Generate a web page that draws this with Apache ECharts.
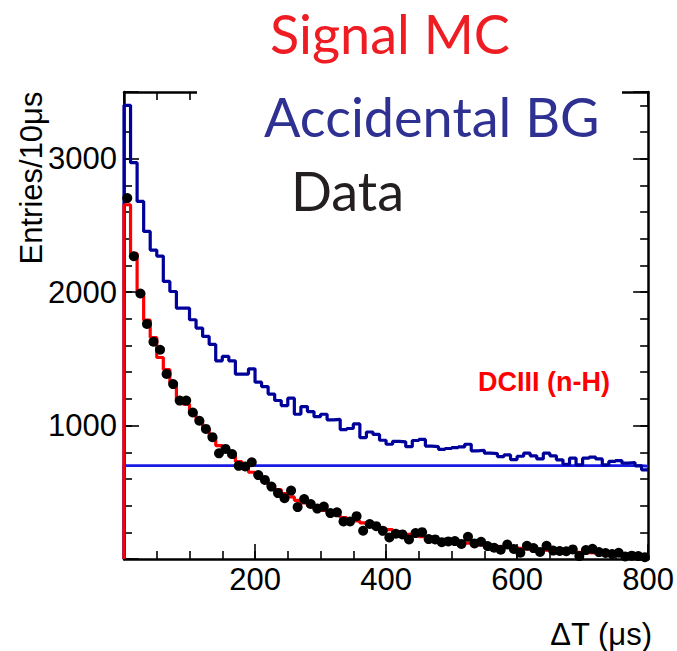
<!DOCTYPE html>
<html><head><meta charset="utf-8">
<script src="https://cdn.jsdelivr.net/npm/echarts@6/dist/echarts.min.js"></script>
<style>html,body{margin:0;padding:0;background:#fff}#c{width:677px;height:651px}</style>
</head><body><div id="c"></div>
<script>
// Bin width 10 us, 80 bins from 0 to 800 us
const binEdgesStart = 0;
const binWidth = 10;
const accidentalHist = [
 3400,2970,2680,2455,2315,2270,2080,2005,1880,1880,
 1793,1731,1668,1608,1485,1518,1485,1386,1386,1425,
 1325,1292,1236,1188,1150,1205,1085,1142,1105,1067,
 1085,1043,1046,970,978,1012,910,952,934,890,
 860,882,878,842,888,896,846,842,822,828,
 834,840,860,811,815,793,790,768,780,745,
 770,793,773,750,793,773,743,710,756,705,
 756,763,750,705,731,738,718,723,698,668];
const flatHist = [
 700,700,700,700,700,700,700,700,700,700,
 700,700,700,700,700,700,700,700,700,700,
 700,700,700,700,700,700,700,700,700,700,
 700,700,700,700,700,700,700,700,700,700,
 700,700,700,700,700,700,700,700,700,700,
 700,700,700,700,700,700,700,700,700,700,
 700,700,700,700,700,700,700,700,700,700,
 700,700,700,700,700,700,700,700,700,695];
const signalMC = [
 2655,2290,2000,1790,1660,1510,1420,1320,1200,1160,
 1100,1040,975,915,850,820,770,730,690,650,
 625,590,550,520,490,465,440,420,400,380,
 365,345,330,310,300,285,270,255,245,230,
 220,205,195,185,178,168,160,152,145,138,
 130,125,118,112,106,100,95,90,86,82,
 78,74,70,67,64,61,58,55,52,50,
 48,45,43,41,39,37,36,34,33,31];
const dataPts = [
 2705,2269,1990,1762,1628,1568,1387,1311,1187,1187,
 1098,1036,975,913,792,825,786,698,693,725,
 629,593,543,494,456,513,389,450,412,378,
 393,344,350,281,281,321,212,262,246,211,
 161,189,184,147,194,201,149,147,126,132,
 134,113,166,117,129,97,84,69,109,75,
 47,99,82,53,99,63,60,58,72,22,
 67,76,52,45,37,47,19,25,22,14];
const xTickLabels = ['200','400','600','800'];
const yTickLabels = ['1000','2000','3000'];

function stepData(arr){
  const out = [[binEdgesStart, 0]];
  arr.forEach((v,i)=>out.push([binEdgesStart + i*binWidth, v]));
  out.push([binEdgesStart + arr.length*binWidth, arr[arr.length-1]]);
  return out;
}
function centers(arr){ return arr.map((v,i)=>[binEdgesStart + (i+0.5)*binWidth, v]); }

const FONT = 'Liberation Sans, Arial, sans-serif';
const chart = echarts.init(document.getElementById('c'), null, {renderer:'svg'});

function xAx(pos, interval, tickLen, showLine, showLabel){
  return {type:'value', min:0, max:800, interval:interval, position:pos, offset:0,
    axisLine:{show:showLine, onZero:false, lineStyle:{color:'#000', width:2.5}},
    axisTick:{show:true, inside:true, length:tickLen, lineStyle:{color:'#000', width:1.6}},
    minorTick:{show:false}, splitLine:{show:false},
    axisLabel:{show:showLabel, color:'#000', fontSize:31, fontFamily:FONT, margin:5,
      formatter:v=> xTickLabels.indexOf(String(v))>=0 ? String(v) : ''}};
}
function yAx(pos, interval, tickLen, showLine, showLabel){
  return {type:'value', min:0, max:3500, interval:interval, position:pos, offset:0,
    axisLine:{show:showLine, onZero:false, lineStyle:{color:'#000', width:2.5}},
    axisTick:{show:true, inside:true, length:tickLen, lineStyle:{color:'#000', width:1.6}},
    minorTick:{show:false}, splitLine:{show:false},
    axisLabel:{show:showLabel, color:'#000', fontSize:31, fontFamily:FONT, margin:7,
      formatter:v=> yTickLabels.indexOf(String(v))>=0 ? String(v) : ''}};
}

chart.setOption({
  animation:false,
  backgroundColor:'#fff',
  grid:{left:124, right:27, top:92, bottom:92, containLabel:false},
  xAxis:[xAx('bottom',200,15,true,true), xAx('bottom',50,8,false,false),
         xAx('top',200,15,true,false), xAx('top',50,8,false,false)],
  yAxis:[yAx('left',1000,15,true,true), yAx('left',200,8,false,false),
         yAx('right',1000,15,true,false), yAx('right',200,8,false,false)],
  series:[
    {type:'line', name:'flat', data:stepData(flatHist), step:'end', symbol:'none',
     lineStyle:{color:'#1a1ae6', width:2.8}, z:2},
    {type:'line', name:'Accidental BG', data:stepData(accidentalHist), step:'end', symbol:'none',
     lineStyle:{color:'#00009a', width:3.2}, z:3},
    {type:'line', name:'Signal MC', data:stepData(signalMC), step:'end', symbol:'none',
     lineStyle:{color:'#ff0000', width:3.2}, z:4},
    {type:'scatter', name:'Data', data:centers(dataPts), symbol:'circle', symbolSize:10,
     itemStyle:{color:'#000', opacity:1}, z:5}
  ],
  graphic:[
    {type:'rect', z:100, shape:{x:197, y:0, width:425, height:225}, style:{fill:'#fff'}},
    {type:'text', z:101, x:270, y:33, style:{text:'Signal MC', fill:'#ee1d23', font:'54px Lato', verticalAlign:'middle', align:'left'}},
    {type:'text', z:101, x:264, y:116, style:{text:'Accidental BG', fill:'#2e3192', font:'54px Lato', verticalAlign:'middle', align:'left'}},
    {type:'text', z:101, x:291, y:190, style:{text:'Data', fill:'#231f20', font:'54px Lato', verticalAlign:'middle', align:'left'}},
    {type:'text', z:101, x:610, y:382, style:{text:'DCIII (n-H)', fill:'#ff0000', font:'bold 27px "Liberation Sans"', verticalAlign:'middle', align:'right'}},
    {type:'text', z:101, x:31, y:178, rotation:Math.PI/2, style:{text:'Entries/10μs', fill:'#000', font:'31px "Liberation Sans"', verticalAlign:'middle', align:'center'}},
    {type:'text', z:101, x:652, y:634, style:{text:'ΔT (μs)', fill:'#000', font:'31px "Liberation Sans"', verticalAlign:'middle', align:'right'}}
  ]
});
</script></body></html>
